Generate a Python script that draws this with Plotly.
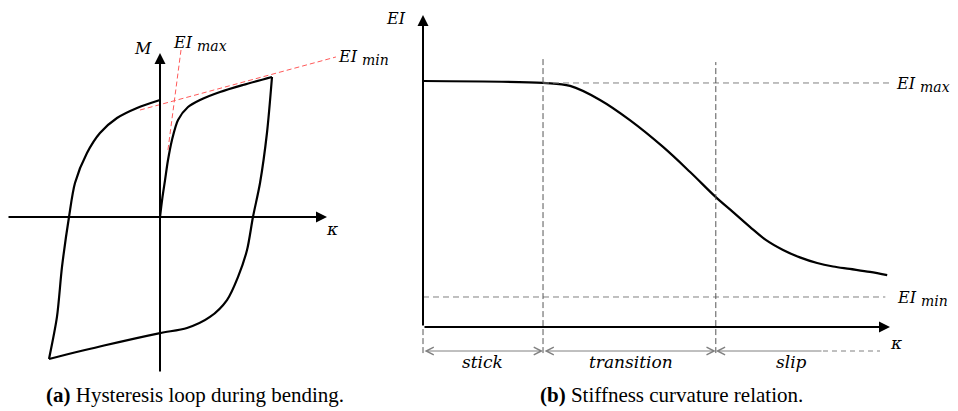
import plotly.graph_objects as go

# ---------------- data: (a) hysteresis loop (normalised kappa, M) ----------------
load_k = [0, 0.02, 0.045, 0.07, 0.107, 0.161, 0.25, 0.357, 0.536, 0.741, 1.0]
load_m = [0, 0.13, 0.264, 0.40, 0.55, 0.693, 0.786, 0.836, 0.893, 0.943, 1.0]

unload_k = [1.0, 0.955, 0.893, 0.83, 0.777, 0.696, 0.598, 0.446, 0.241, 0.0, -0.5, -0.991]
unload_m = [1.0, 0.6, 0.243, 0.0, -0.236, -0.429, -0.593, -0.714, -0.793, -0.829, -0.918, -1.014]

reload_k = [-0.991, -0.92, -0.875, -0.8125, -0.759, -0.652, -0.536, -0.384, -0.205, 0.0]
reload_m = [-1.014, -0.714, -0.357, 0.0, 0.243, 0.457, 0.6, 0.707, 0.779, 0.836]

tan_max_k = [0.071, 0.1875]
tan_max_m = [0.479, 1.193]
tan_min_k = [-0.179, 1.571]
tan_min_m = [0.764, 1.143]

left_k_axis = [-1.366, 1.491]
left_m_axis = [-1.114, 1.171]

# ---------------- data: (b) stiffness vs curvature ----------------
ei_k = [0, 0.257, 0.315, 0.379, 0.443, 0.514, 0.572, 0.627, 0.664, 0.700, 0.734,
        0.771, 0.807, 0.844, 0.878, 0.914, 0.957, 0.994]
ei_v = [1.0, 0.992, 0.980, 0.923, 0.841, 0.732, 0.630, 0.528, 0.467, 0.407, 0.354,
        0.313, 0.283, 0.260, 0.246, 0.236, 0.224, 0.211]

EI_MAX = 0.992
EI_MIN = 0.122
k_bounds = [0.0, 0.257, 0.627, 1.0]
region_names = ["stick", "transition", "slip"]
region_label_k = [0.128, 0.445, 0.79]
right_k_axis = [0.0, 1.0]
right_ei_axis = [0.0, 1.268]
bound_top = [None, 1.093, 1.077]
bound_bottom = -0.106
dim_level = -0.0976
slip_solid_end = 0.8565
slip_dash_end = 0.9786

fig = go.Figure()

BLACK = "#000000"
RED = "#ff5a5a"
GRAY = "#808080"
DGRAY = "#555555"
MATH = "DejaVu Serif"

# ---- panel (a) ----
for kk, mm in [(load_k, load_m), (unload_k, unload_m), (reload_k, reload_m)]:
    fig.add_trace(go.Scatter(x=kk, y=mm, mode="lines", xaxis="x", yaxis="y",
                             line=dict(color=BLACK, width=2.2, shape="spline", smoothing=0.8),
                             hoverinfo="skip", showlegend=False))
for kk, mm in [(tan_max_k, tan_max_m), (tan_min_k, tan_min_m)]:
    fig.add_trace(go.Scatter(x=kk, y=mm, mode="lines", xaxis="x", yaxis="y",
                             line=dict(color=RED, width=1, dash="5px,3px"),
                             hoverinfo="skip", showlegend=False))

# ---- panel (b) ----
fig.add_trace(go.Scatter(x=ei_k, y=ei_v, mode="lines", xaxis="x2", yaxis="y2",
                         line=dict(color=BLACK, width=2.2, shape="spline", smoothing=1.0),
                         hoverinfo="skip", showlegend=False))
fig.add_trace(go.Scatter(x=[k_bounds[1], k_bounds[3]], y=[EI_MAX, EI_MAX], mode="lines",
                         xaxis="x2", yaxis="y2", line=dict(color=GRAY, width=1, dash="6px,4px"),
                         hoverinfo="skip", showlegend=False))
fig.add_trace(go.Scatter(x=[k_bounds[0], k_bounds[3] - 0.01], y=[EI_MIN, EI_MIN], mode="lines",
                         xaxis="x2", yaxis="y2", line=dict(color=GRAY, width=1, dash="6px,4px"),
                         hoverinfo="skip", showlegend=False))
for i in range(3):
    top = bound_top[i] if bound_top[i] is not None else 0.0
    fig.add_trace(go.Scatter(x=[k_bounds[i], k_bounds[i]], y=[bound_bottom, top], mode="lines",
                             xaxis="x2", yaxis="y2",
                             line=dict(color=DGRAY, width=1, dash="6px,3px"),
                             hoverinfo="skip", showlegend=False))
fig.add_trace(go.Scatter(x=[slip_solid_end, slip_dash_end], y=[dim_level, dim_level], mode="lines",
                         xaxis="x2", yaxis="y2", line=dict(color=GRAY, width=1, dash="5px,4px"),
                         hoverinfo="skip", showlegend=False))

ann = []

def axis_arrow(x0, y0, x1, y1, xr, yr):
    ann.append(dict(x=x1, y=y1, ax=x0, ay=y0, xref=xr, yref=yr, axref=xr, ayref=yr,
                    text="", showarrow=True, arrowhead=2, arrowsize=1.1, arrowwidth=2,
                    arrowcolor=BLACK, standoff=0))

axis_arrow(left_k_axis[0], 0, left_k_axis[1], 0, "x", "y")
axis_arrow(0, left_m_axis[0], 0, left_m_axis[1], "x", "y")
axis_arrow(right_k_axis[0], 0, right_k_axis[1], 0, "x2", "y2")
axis_arrow(0, right_ei_axis[0], 0, right_ei_axis[1], "x2", "y2")

for i in range(2):
    ann.append(dict(x=k_bounds[i + 1], y=dim_level, ax=k_bounds[i], ay=dim_level,
                    xref="x2", yref="y2", axref="x2", ayref="y2", text="", showarrow=True,
                    arrowside="end+start", arrowhead=5, startarrowhead=5,
                    arrowsize=1.5, startarrowsize=1.5, arrowwidth=1, arrowcolor=GRAY,
                    standoff=0, startstandoff=0))
ann.append(dict(x=k_bounds[2], y=dim_level, ax=slip_solid_end, ay=dim_level,
                xref="x2", yref="y2", axref="x2", ayref="y2", text="", showarrow=True,
                arrowhead=5, arrowsize=1.5, arrowwidth=1, arrowcolor=GRAY, standoff=0))

def label(text, x, y, xr, yr, size=17, xanchor="center"):
    ann.append(dict(x=x, y=y, xref=xr, yref=yr, text=text, showarrow=False,
                    xanchor=xanchor, yanchor="middle",
                    font=dict(family=MATH, size=size, color=BLACK)))

def ei_sub(sub):
    return "<i>EI</i> <sub><span style='font-size:14px'><i>%s</i></span></sub>" % sub

for name, kx in zip(region_names, region_label_k):
    label("<i>%s</i>" % name, kx, -0.142, "x2", "y2", size=17)

label("<i>M</i>", -0.152, 1.207, "x", "y", size=16)
label(ei_sub("max"), 0.1, 1.24, "x", "y", size=16, xanchor="left")
label(ei_sub("min"), 1.57, 1.14, "x", "y", size=16, xanchor="left")
label("<i>κ</i>", 1.536, -0.086, "x", "y", size=17)

label("<i>EI</i>", -0.058, 1.255, "x2", "y2", size=16)
label(ei_sub("max"), 1.008, 0.985, "x2", "y2", size=16, xanchor="left")
label(ei_sub("min"), 1.01, 0.115, "x2", "y2", size=16, xanchor="left")
label("<i>κ</i>", 1.013, -0.065, "x2", "y2", size=17)

ann.append(dict(x=195 / 958, y=1 - 395 / 411, xref="paper", yref="paper",
                text="<b>(a)</b> Hysteresis loop during bending.", showarrow=False,
                xanchor="center", yanchor="middle",
                font=dict(family="Liberation Serif", size=21, color=BLACK)))
ann.append(dict(x=671 / 958, y=1 - 395 / 411, xref="paper", yref="paper",
                text="<b>(b)</b> Stiffness curvature relation.", showarrow=False,
                xanchor="center", yanchor="middle",
                font=dict(family="Liberation Serif", size=21, color=BLACK)))

hidden = dict(visible=False, showgrid=False, zeroline=False, fixedrange=True)
fig.update_layout(
    width=958, height=411,
    margin=dict(l=0, r=0, t=0, b=0),
    paper_bgcolor="white", plot_bgcolor="white",
    showlegend=False,
    xaxis=dict(domain=[0, 340 / 958], range=[-160 / 112, 180 / 112], **hidden),
    yaxis=dict(domain=[0, 1], range=[(217 - 411) / 140, 217 / 140], **hidden),
    xaxis2=dict(domain=[380 / 958, 1], range=[(380 - 423) / 467, (958 - 423) / 467],
                anchor="y2", **hidden),
    yaxis2=dict(domain=[0, 1], range=[(327 - 411) / 246, 327 / 246], anchor="x2", **hidden),
    annotations=ann,
)

fig.write_html("out.html")
